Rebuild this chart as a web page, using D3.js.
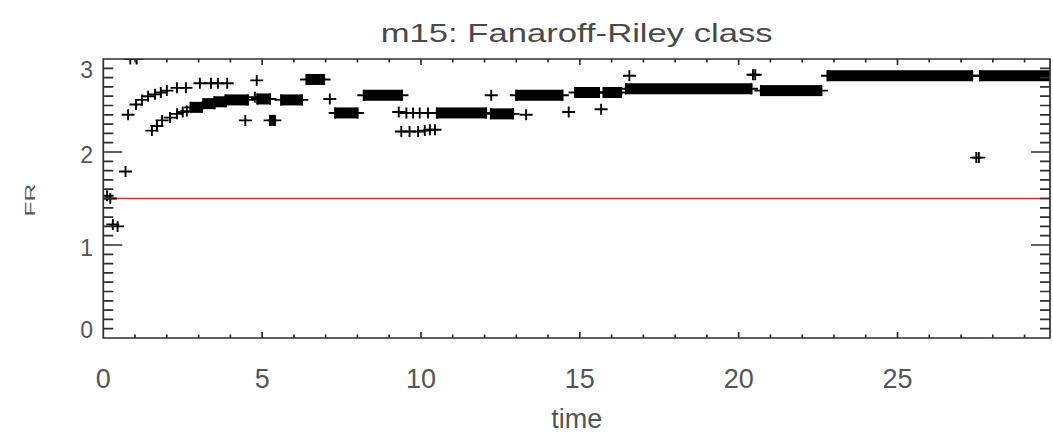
<!DOCTYPE html>
<html>
<head>
<meta charset="utf-8">
<script src="https://cdn.jsdelivr.net/npm/d3@7"></script>
<style>
  html, body { margin: 0; padding: 0; background: #fff; }
  svg { display: block; }
  text { font-family: "Liberation Sans", Arial, Helvetica, sans-serif; fill: #4a4a4a; }
</style>
</head>
<body>
<svg id="chart" width="1053" height="433"></svg>
<script>
// Single samples: time and FR value
const sampleTime = [0.12, 0.22, 0.3, 0.45, 0.7, 0.85, 1.05,
  0.78, 1.03, 1.22, 1.41, 1.63, 1.81, 2.0, 2.32, 2.6, 3.04, 3.39, 3.61, 3.9, 4.83,
  1.53, 1.69, 1.85, 2.1, 2.32, 2.5, 2.63,
  4.47, 4.77, 7.13, 9.3, 9.54, 9.75, 9.96, 10.22,
  9.38, 9.64, 9.91, 10.12, 10.28, 10.44,
  12.21, 13.31, 14.65, 15.67, 16.56, 20.45, 20.52, 27.48, 27.56];
const sampleFR = [1.53, 1.5, 1.22, 1.2, 1.79, 3.0, 3.0,
  2.40, 2.51, 2.56, 2.60, 2.62, 2.64, 2.66, 2.69, 2.69, 2.74, 2.74, 2.74, 2.74, 2.77,
  2.23, 2.28, 2.34, 2.37, 2.41, 2.43, 2.44,
  2.34, 2.59, 2.57, 2.43, 2.42, 2.42, 2.42, 2.42,
  2.22, 2.22, 2.22, 2.23, 2.24, 2.24,
  2.61, 2.40, 2.43, 2.46, 2.82, 2.83, 2.83, 1.94, 1.94];

// Stretches of densely packed samples that share one FR value
const runStart = [2.75, 3.15, 3.5, 3.85, 4.85, 5.25, 5.6, 6.4, 7.3, 8.2, 10.5, 12.2, 13.0, 14.85, 15.75, 16.45, 20.7, 22.8, 27.6];
const runEnd   = [3.1, 3.5, 3.85, 4.55, 5.25, 5.4, 6.25, 6.95, 8.0, 9.4, 12.05, 12.9, 14.45, 15.6, 16.3, 20.4, 22.6, 27.35, 29.8];
const runFR    = [2.48, 2.52, 2.54, 2.56, 2.57, 2.34, 2.56, 2.78, 2.42, 2.61, 2.42, 2.41, 2.61, 2.64, 2.64, 2.68, 2.66, 2.82, 2.82];

const xTickValues = [0, 5, 10, 15, 20, 25];
const yTickValues = [0, 1, 2, 3];
const frThreshold = 1.5;

const titleText = "m15: Fanaroff-Riley class";
const xLabel = "time";
const yLabel = "FR";

const svg = d3.select("#chart");
const plotL = 103.3, plotR = 1050, plotT = 59, plotB = 338;

const x = d3.scaleLinear().domain([0, 29.8]).range([plotL, plotR]);
const y = d3.scaleLinear().domain([0, 3]).range([plotB, plotT]);

// clip data marks to the plot window
svg.append("defs").append("clipPath").attr("id", "plotClip")
  .append("rect").attr("x", plotL).attr("y", plotT)
  .attr("width", plotR - plotL).attr("height", plotB - plotT);

const axisColor = "#2e2e2e";
const majorX = 6, minorX = 3.5, majorY = 19, minorY = 10;

// tick labels
svg.append("g").selectAll("text").data(xTickValues).join("text")
  .attr("x", d => x(d)).attr("y", 388)
  .attr("text-anchor", "middle").attr("font-size", 27)
  .style("fill", "#555")
  .text(d => d);

svg.append("g").selectAll("text").data(yTickValues).join("text")
  .attr("x", 93)
  .attr("y", d => Math.min(Math.max(y(d) + 3, plotT + 11), plotB - 8))
  .attr("dy", "0.36em")
  .attr("text-anchor", "end").attr("font-size", 23)
  .style("fill", "#555")
  .text(d => d);

// threshold line
svg.append("line")
  .attr("x1", plotL).attr("x2", plotR)
  .attr("y1", y(frThreshold)).attr("y2", y(frThreshold))
  .attr("stroke", "#ea2a2a").attr("stroke-width", 1.5);

// data marks
const marks = svg.append("g").attr("clip-path", "url(#plotClip)");
const armX = 6.5, armY = 5.5, lw = 1.9;

function plus(g, px, py) {
  g.append("line").attr("x1", px - armX).attr("x2", px + armX).attr("y1", py).attr("y2", py)
    .attr("stroke", "#000").attr("stroke-width", lw);
  g.append("line").attr("x1", px).attr("x2", px).attr("y1", py - armY).attr("y2", py + armY)
    .attr("stroke", "#000").attr("stroke-width", lw);
}

runStart.forEach((t0, i) => {
  const x0 = x(t0), x1 = x(runEnd[i]), py = y(runFR[i]);
  marks.append("rect").attr("x", x0 - lw / 2).attr("y", py - armY)
    .attr("width", x1 - x0 + lw).attr("height", 2 * armY).attr("fill", "#000");
  plus(marks, x0, py);
  plus(marks, x1, py);
});

sampleTime.forEach((t, i) => plus(marks, x(t), y(sampleFR[i])));

// frame plus inward ticks on all four sides as one path:
// time ticks every 1 (long every 5), FR ticks every 0.1 (long every 1)
const xTicksAll = x.ticks(30).filter(d => d <= 29.8);
const yTicksAll = y.ticks(30);
const isMajorX = d => Math.abs(d % 5) < 1e-9;
const isMajorY = d => Math.abs(d - Math.round(d)) < 1e-9;

const p = d3.path();
p.rect(plotL, plotT, plotR - plotL, plotB - plotT);
xTicksAll.forEach(d => {
  const px = x(d), len = isMajorX(d) ? majorX : minorX;
  p.moveTo(px, plotB); p.lineTo(px, plotB - len);
  p.moveTo(px, plotT); p.lineTo(px, plotT + len);
});
yTicksAll.forEach(d => {
  const py = y(d), len = isMajorY(d) ? majorY : minorY;
  p.moveTo(plotL, py); p.lineTo(plotL + len, py);
  p.moveTo(plotR, py); p.lineTo(plotR - len, py);
});
svg.append("path").attr("d", p.toString())
  .attr("fill", "none").attr("stroke", axisColor).attr("stroke-width", 1.7);

// titles
svg.append("text").attr("x", (plotL + plotR) / 2).attr("y", 42)
  .attr("text-anchor", "middle").attr("font-size", 26)
  .attr("textLength", 392).attr("lengthAdjust", "spacingAndGlyphs")
  .text(titleText);

svg.append("text").attr("x", (plotL + plotR) / 2).attr("y", 428)
  .attr("text-anchor", "middle").attr("font-size", 27)
  .style("fill", "#555")
  .text(xLabel);

svg.append("text")
  .attr("transform", "translate(35,200) rotate(-90)")
  .attr("text-anchor", "middle").attr("font-size", 14)
  .attr("textLength", 33).attr("lengthAdjust", "spacingAndGlyphs")
  .style("fill", "#555")
  .text(yLabel);
</script>
</body>
</html>
